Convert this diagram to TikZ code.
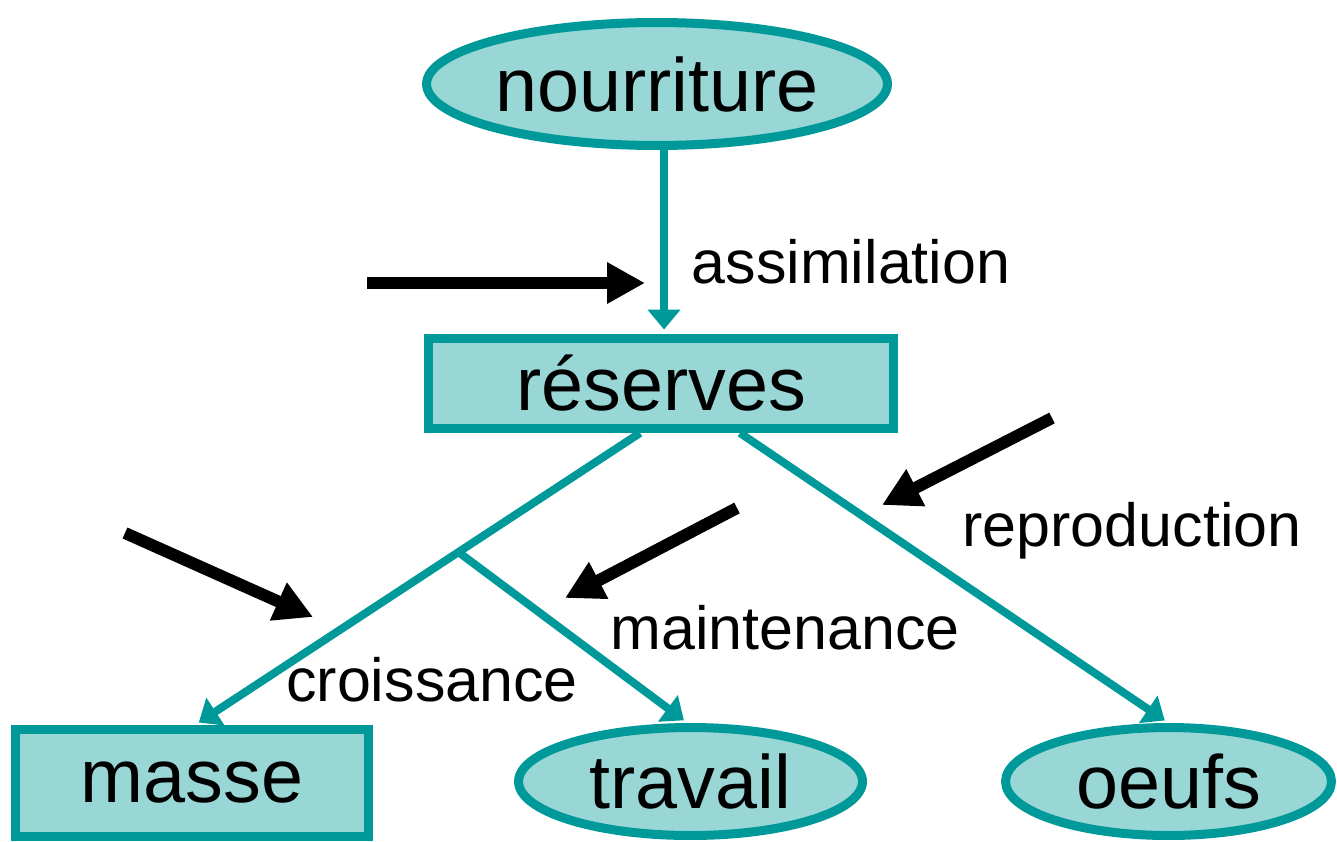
\documentclass[tikz,border=0pt]{standalone}
\usepackage{fontspec}
\setmainfont{Liberation Sans}
\usetikzlibrary{arrows.meta,calc,shapes.geometric}
\definecolor{tealline}{RGB}{0,153,153}
\definecolor{tealfill}{RGB}{153,214,214}
\begin{document}
\begin{tikzpicture}[x=0.02cm,y=-0.02cm,
  boxnode/.style={draw=tealline, fill=tealfill, line width=0.18cm, inner sep=0pt, rectangle,
    font=\fontsize{43}{50}\selectfont, text=black},
  ellnode/.style={boxnode, ellipse},
  lbl/.style={font=\fontsize{34.7}{40}\selectfont, text=black, inner sep=0pt},
  conn/.style={draw=tealline, line width=0.16cm, -{Triangle[length=0.4cm,width=0.64cm]}, shorten >=0.09cm},
  blk/.style={draw=black, line width=0.24cm, -{Triangle[length=0.76cm,width=0.78cm]}}
]
\useasboundingbox (0,0) rectangle (1337,841);

\node[ellnode, minimum width=9.22cm, minimum height=2.46cm] (nou) at (657,84) {nourriture};
\node[boxnode, minimum width=9.3cm, minimum height=1.8cm] (res) at (661,383.5) {réserves};
\node[boxnode, minimum width=7.06cm, minimum height=2.14cm] (mas) at (192,783) {masse};
\node[ellnode, minimum width=6.88cm, minimum height=2.16cm] (tra) at (690.5,781.5) {travail};
\node[ellnode, minimum width=6.52cm, minimum height=2.16cm] (oeu) at (1168.5,781.5) {oeufs};

% teal connectors
\draw[conn] ($(nou.south)+(7,0)$) -- ($(res.north)+(3,0)$);
\draw[conn] ($(res.south)+(-21,0)$) -- coordinate[pos=0.408] (j) ($(mas.north)+(3,0)$);
\draw[conn] (j) -- ($(tra.north)+(-3,0)$);
\draw[conn] ($(res.south)+(79,0)$) -- (oeu.north);

% labels
\node[lbl] (lassim) at (851,262) {assimilation};
\node[lbl] (lrepro) at (1132,531) {reproduction};
\node[lbl] (lmaint) at (785,628) {maintenance};
\node[lbl] (lcrois) at (432,680) {croissance};

% black arrows
\coordinate (a1s) at (367,283); \coordinate (a1e) at (645,283);
\coordinate (a2s) at (1052,418); \coordinate (a2e) at (882,505);
\coordinate (a3s) at (737,508); \coordinate (a3e) at (565,598);
\coordinate (a4s) at (125,533); \coordinate (a4e) at (313,617);
\draw[blk] (a1s) -- (a1e);
\draw[blk] (a2s) -- (a2e);
\draw[blk] (a3s) -- (a3e);
\draw[blk] (a4s) -- (a4e);
\end{tikzpicture}
\end{document}
